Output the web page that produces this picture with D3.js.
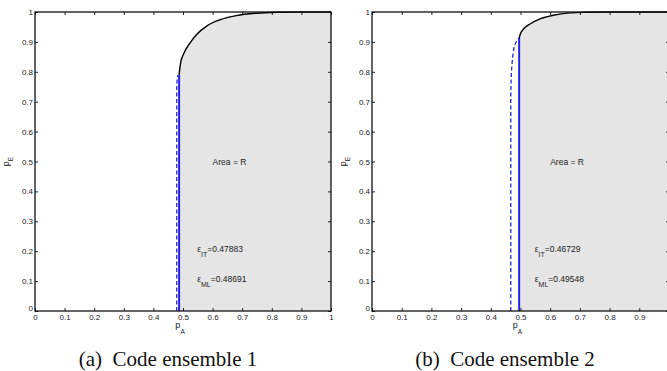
<!DOCTYPE html>
<html>
<head>
<meta charset="utf-8">
<script src="https://cdn.jsdelivr.net/npm/d3@7"></script>
<style>
  body { margin: 0; background: #fff; }
  svg { display: block; }
  text { font-family: "Liberation Sans", Arial, sans-serif; fill: #222; }
  .caption { font-family: "Liberation Serif", "Times New Roman", serif; fill: #111; }
</style>
</head>
<body>
<div id="chart"></div>
<script>
// tick values (both axes, both panels)
const tickValues = [0, 0.1, 0.2, 0.3, 0.4, 0.5, 0.6, 0.7, 0.8, 0.9, 1];

// panel (a): code ensemble 1
const epsIT1 = 0.47883;
const epsML1 = 0.48691;
const curve1X = [0.48691, 0.489, 0.493, 0.5, 0.51, 0.524, 0.546, 0.58, 0.625, 0.68, 0.75, 0.82, 0.9, 1];
const curve1Y = [0.79, 0.81, 0.835, 0.855, 0.876, 0.897, 0.925, 0.953, 0.974, 0.988, 0.996, 0.999, 1, 1];
const dashed1X = [0.47883, 0.47883, 0.4795, 0.481, 0.4835];
const dashed1Y = [0, 0.74, 0.765, 0.78, 0.79];

// panel (b): code ensemble 2
const epsIT2 = 0.46729;
const epsML2 = 0.49548;
const curve2X = [0.49548, 0.5, 0.51, 0.532, 0.566, 0.61, 0.667, 0.72, 0.8, 1];
const curve2Y = [0.913, 0.928, 0.943, 0.96, 0.977, 0.989, 0.997, 0.999, 1, 1];
const dashed2X = [0.46729, 0.46729, 0.4685, 0.471, 0.475, 0.481, 0.4885, 0.4935];
const dashed2Y = [0, 0.7, 0.77, 0.82, 0.86, 0.89, 0.905, 0.912];

const captions = ["(a)  Code ensemble 1", "(b)  Code ensemble 2"];

const W = 667, H = 371;
const svg = d3.select('#chart').append('svg')
  .attr('width', W).attr('height', H);

const blue = '#2424e0';

function drawPanel(cfg) {
  const x = d3.scaleLinear([0, 1], [cfg.left, cfg.right]);
  const y = d3.scaleLinear([0, 1], [cfg.bottom, cfg.top]);
  const g = svg.append('g');

  const curve = cfg.cx.map((v, i) => [v, cfg.cy[i]]);
  const dashed = cfg.dx.map((v, i) => [v, cfg.dy[i]]);

  // shaded region: right of the ML threshold, under the curve
  const region = [[cfg.ml, 0]].concat(curve, [[1, 0]]);
  g.append('path')
    .datum(region)
    .attr('fill', '#e5e5e5')
    .attr('stroke', 'none')
    .attr('d', d3.line().x(d => x(d[0])).y(d => y(d[1])));

  // axes (ticks inward on all four sides)
  const fmt = d => (d === 0 || d === 1) ? String(d) : d.toFixed(1);
  g.append('g')
    .attr('transform', `translate(0,${cfg.bottom})`)
    .call(d3.axisBottom(x).tickValues(tickValues).tickSizeInner(-3).tickSizeOuter(0).tickPadding(3).tickFormat(fmt))
    .call(a => a.select('.domain').remove())
    .call(a => a.selectAll('text').attr('font-size', '8px').attr('fill', '#222'));
  g.append('g')
    .attr('transform', `translate(0,${cfg.top})`)
    .call(d3.axisTop(x).tickValues(tickValues).tickSizeInner(-3).tickSizeOuter(0).tickFormat(''))
    .call(a => a.select('.domain').remove());
  g.append('g')
    .attr('transform', `translate(${cfg.left},0)`)
    .call(d3.axisLeft(y).tickValues(tickValues).tickSizeInner(-3).tickSizeOuter(0).tickPadding(2).tickFormat(fmt))
    .call(a => a.select('.domain').remove())
    .call(a => a.selectAll('text').attr('font-size', '8px').attr('fill', '#222'))
    .call(a => a.selectAll('.tick').filter(d => d === 0).select('text').attr('dy', '-0.1em').attr('x', -2));
  g.append('g')
    .attr('transform', `translate(${cfg.right},0)`)
    .call(d3.axisRight(y).tickValues(tickValues).tickSizeInner(-3).tickSizeOuter(0).tickFormat(''))
    .call(a => a.select('.domain').remove());
  g.selectAll('.tick line').attr('stroke', '#222');

  // threshold lines
  g.append('path')
    .datum(dashed)
    .attr('fill', 'none')
    .attr('stroke', blue)
    .attr('stroke-width', 1.3)
    .attr('stroke-dasharray', '4,2.5')
    .attr('d', d3.line().curve(d3.curveMonotoneY).x(d => x(d[0])).y(d => y(d[1])));
  g.append('line')
    .attr('x1', x(cfg.ml)).attr('x2', x(cfg.ml))
    .attr('y1', y(0)).attr('y2', y(cfg.cy[0]))
    .attr('stroke', blue)
    .attr('stroke-width', 2);

  // boundary curve
  g.append('path')
    .datum(curve)
    .attr('fill', 'none')
    .attr('stroke', '#000')
    .attr('stroke-width', 1.4)
    .attr('d', d3.line().curve(d3.curveMonotoneX).x(d => x(d[0])).y(d => y(d[1])));

  // box
  g.append('rect')
    .attr('x', cfg.left).attr('y', cfg.top)
    .attr('width', cfg.right - cfg.left).attr('height', cfg.bottom - cfg.top)
    .attr('fill', 'none')
    .attr('stroke', '#111')
    .attr('stroke-width', 1.3);

  // annotations
  g.append('text')
    .attr('x', x(0.6)).attr('y', y(0.5) + 3)
    .attr('font-size', '8.5px')
    .text('Area = R');

  const eps = (val, sub, yv) => {
    const t = g.append('text')
      .attr('x', x(0.548)).attr('y', y(yv) + 2)
      .attr('font-size', '8.5px');
    t.append('tspan').text('ε');
    t.append('tspan').attr('dy', 5).attr('font-size', '7px').text(sub);
    t.append('tspan').attr('dy', -5).text('=' + val.toFixed(5));
  };
  eps(cfg.it, 'IT', 0.205);
  eps(cfg.ml, 'ML', 0.105);

  // axis labels
  const xl = g.append('text')
    .attr('x', x(0.49)).attr('y', cfg.bottom + 17)
    .attr('text-anchor', 'middle')
    .attr('font-size', '9px');
  xl.append('tspan').text('p');
  xl.append('tspan').attr('dy', 6).attr('font-size', '6.5px').text('A');

  const yl = g.append('text')
    .attr('transform', `translate(${cfg.left - 26},${y(0.5)}) rotate(-90)`)
    .attr('text-anchor', 'middle')
    .attr('font-size', '9px');
  yl.append('tspan').text('p');
  yl.append('tspan').attr('dy', 4).attr('font-size', '6.5px').text('E');

  // caption
  svg.append('text')
    .attr('class', 'caption')
    .attr('x', cfg.capX).attr('y', 366)
    .attr('text-anchor', 'middle')
    .attr('font-size', '21px')
    .style('white-space', 'pre')
    .text(cfg.caption);
}

drawPanel({
  left: 35, right: 331, top: 12, bottom: 311,
  it: epsIT1, ml: epsML1,
  cx: curve1X, cy: curve1Y, dx: dashed1X, dy: dashed1Y,
  caption: captions[0], capX: 168
});
drawPanel({
  left: 372, right: 669, top: 12, bottom: 311,
  it: epsIT2, ml: epsML2,
  cx: curve2X, cy: curve2Y, dx: dashed2X, dy: dashed2Y,
  caption: captions[1], capX: 505
});
</script>
</body>
</html>
